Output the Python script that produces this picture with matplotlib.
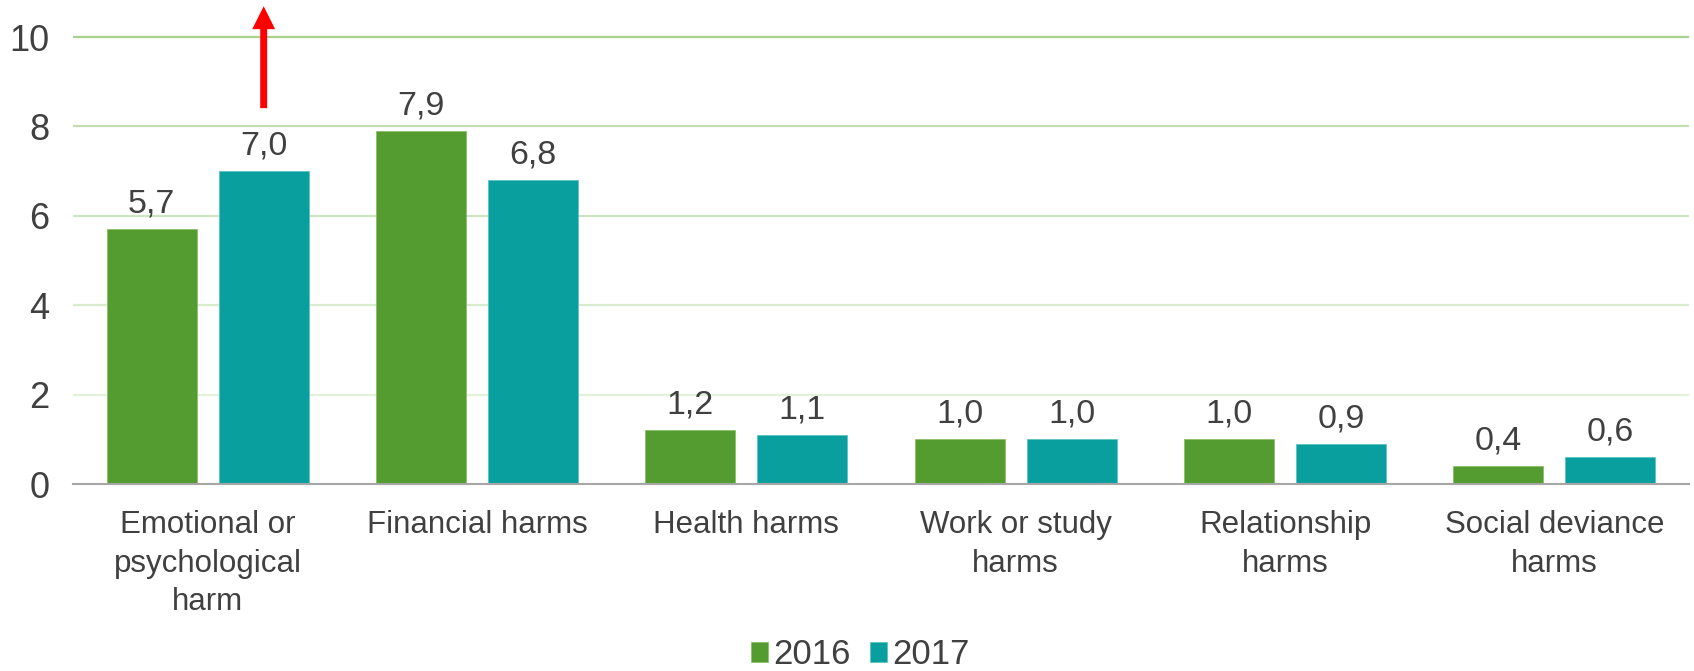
import matplotlib
matplotlib.use("Agg")
import matplotlib.pyplot as plt
import numpy as np

categories = ["Emotional or\npsychological\nharm", "Financial harms", "Health harms",
              "Work or study\nharms", "Relationship\nharms", "Social deviance\nharms"]
series_names = ["2016", "2017"]
values_2016 = [5.7, 7.9, 1.2, 1.0, 1.0, 0.4]
values_2017 = [7.0, 6.8, 1.1, 1.0, 0.9, 0.6]
y_ticks = [0, 2, 4, 6, 8, 10]
arrow_category = 0
arrow_from, arrow_to = 8.41, 10.69

plt.rcParams['font.family'] = ['Liberation Sans', 'DejaVu Sans']
text_color = '#404040'
green = '#549b30'
teal = '#089f9e'

fig = plt.figure(figsize=(16.94, 6.71), dpi=100)
ax = fig.add_axes([73/1694, 1-484/671, (1689-73)/1694, 484/671])

x = np.arange(len(categories))
w = 0.334
off = 0.208
b1 = ax.bar(x - off, values_2016, w, color=green, edgecolor='#8cc06a', linewidth=0.6, label=series_names[0], zorder=3)
b2 = ax.bar(x + off, values_2017, w, color=teal, edgecolor='#5cc4c2', linewidth=0.6, label=series_names[1], zorder=3)

fmt = lambda v: f"{v:.1f}".replace('.', ',')
for bars, vals in ((b1, values_2016), (b2, values_2017)):
    ax.bar_label(bars, labels=[fmt(v) for v in vals], padding=7, fontsize=24.5, color=text_color)

ax.set_xlim(-0.5, len(categories) - 0.5)
ax.set_ylim(0, 10.83)
ax.set_yticks(y_ticks)
ax.set_yticklabels([str(t) for t in y_ticks], fontsize=26)
ax.set_xticks(x)
ax.set_xticklabels(categories, linespacing=1.36, fontsize=22.5)
ax.tick_params(axis='both', length=0, labelcolor=text_color)
ax.tick_params(axis='y', pad=17)
ax.tick_params(axis='x', pad=19)

grid_colors = {2: '#e3f0da', 4: '#d9ebcd', 6: '#cfe5c1', 8: '#c3deb1', 10: '#a9d18e'}
for t in y_ticks[1:]:
    ax.axhline(t, color=grid_colors[t], linewidth=1.6, zorder=1)

for s in ['top', 'right', 'left']:
    ax.spines[s].set_visible(False)
ax.spines['bottom'].set_color('#a6a6a6')
ax.spines['bottom'].set_linewidth(1.5)
ax.spines['bottom'].set_zorder(4)

ax.annotate('', xy=(x[arrow_category] + off, arrow_to), xytext=(x[arrow_category] + off, arrow_from),
            arrowprops=dict(facecolor='#ff0000', edgecolor='none', width=5, headwidth=16.5,
                            headlength=16.5, shrink=0), annotation_clip=False, zorder=5)

leg = fig.legend(handles=[b1, b2], labels=series_names, loc='center', bbox_to_anchor=(860/1694, 1-655/671),
                 ncol=2, frameon=False, fontsize=25, handlelength=0.5, handleheight=0.5,
                 handletextpad=0.15, columnspacing=0.55, labelcolor=text_color)

fig.savefig('out.png', dpi=100)
